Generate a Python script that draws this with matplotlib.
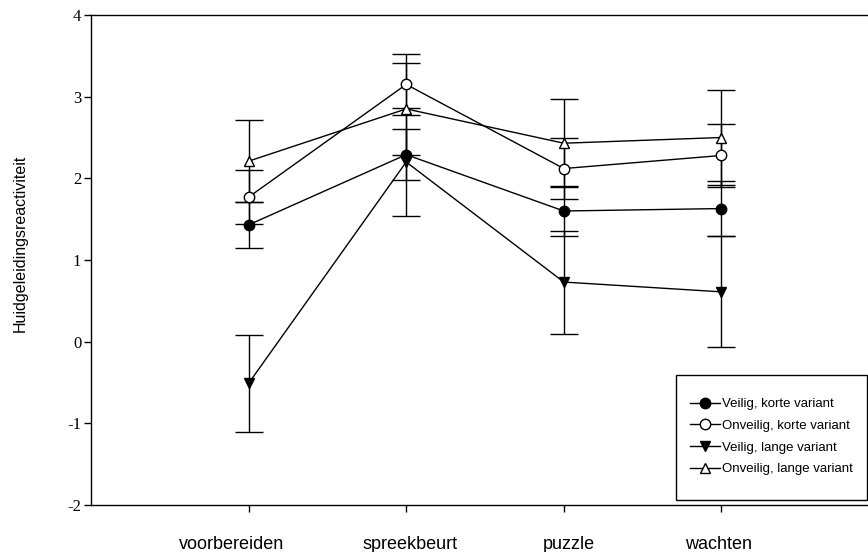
import matplotlib
matplotlib.use("Agg")
import matplotlib.pyplot as plt
from matplotlib.legend_handler import HandlerLine2D
from matplotlib.lines import Line2D
from matplotlib.patches import Rectangle
import numpy as np

# ---- data ----
categories = ["voorbereiden", "spreekbeurt", "puzzle", "wachten"]
veilig_kort = [1.43, 2.29, 1.60, 1.63]
veilig_kort_err = [0.28, 0.31, 0.31, 0.34]
onveilig_kort = [1.77, 3.15, 2.12, 2.28]
onveilig_kort_err = [0.33, 0.37, 0.37, 0.38]
veilig_lang = [-0.51, 2.20, 0.73, 0.61]
veilig_lang_err = [0.59, 0.66, 0.63, 0.68]
onveilig_lang = [2.21, 2.85, 2.43, 2.50]
onveilig_lang_err = [0.50, 0.56, 0.54, 0.58]
series_labels = ["Veilig, korte variant", "Onveilig, korte variant",
                 "Veilig, lange variant", "Onveilig, lange variant"]
y_ticks = [-2, -1, 0, 1, 2, 3, 4]
y_label = "Huidgeleidingsreactiviteit"

# ---- layout (label placement offsets relative to category ticks) ----
label_shift = [-0.11, 0.025, 0.03, -0.02]

W, H = 868, 552
fig = plt.figure(figsize=(W / 100, H / 100), dpi=100)
ax = fig.add_axes([91 / W, 47 / H, 788 / W, 490 / H])

x = np.arange(1, len(categories) + 1)
series = [
    (veilig_kort, veilig_kort_err, "o", "black"),
    (onveilig_kort, onveilig_kort_err, "o", "white"),
    (veilig_lang, veilig_lang_err, "v", "black"),
    (onveilig_lang, onveilig_lang_err, "^", "white"),
]
handles = []
for (vals, errs, mk, fc), lab in zip(series, series_labels):
    ax.errorbar(x, vals, yerr=errs, fmt="-", marker=mk, color="black",
                mfc=fc, mec="black", ms=7.5, mew=1.0, lw=1.0,
                elinewidth=1.0, capsize=10, capthick=1.0, label=lab)
    handles.append(Line2D([], [], color="black", lw=1.0, marker=mk, mfc=fc,
                          mec="black", ms=7.5, mew=1.0))

ax.set_xlim(0, 5)
ax.set_ylim(-2, 4)
ax.set_yticks(y_ticks)
ax.set_yticklabels([str(t) for t in y_ticks], family="Liberation Serif", fontsize=12)
ax.tick_params(axis="y", direction="out", length=5, width=1, pad=2)

ax.set_xticks(x)
ax.set_xticklabels([])
ax.tick_params(axis="x", which="major", direction="out", length=5, width=1)
ax.set_xticks(x + np.array(label_shift), minor=True)
ax.set_xticklabels(categories, minor=True, family="Liberation Sans", fontsize=13)
ax.tick_params(axis="x", which="minor", length=0, pad=22)

for s in ["top", "bottom", "left", "right"]:
    ax.spines[s].set_linewidth(1.0)

ax.set_ylabel(y_label, family="Liberation Sans", fontsize=11.5)
ax.yaxis.set_label_coords(-0.080, 0.535)


class EndMarkerHandler(HandlerLine2D):
    def get_xdata(self, legend, xdescent, ydescent, width, height, fontsize):
        xdata = np.array([-xdescent, -xdescent + width], float)
        xm = np.array([-xdescent + 0.62 * width], float)
        return xdata, xm


# legend box frame
fig.patches.append(Rectangle((676 / W, 1 - 500 / H), 191 / W, 125 / H,
                             transform=fig.transFigure, fill=False,
                             edgecolor="black", linewidth=1.0, zorder=5))

leg = ax.legend(handles, series_labels, loc="upper left",
                bbox_to_anchor=(690 / W, 1 - 398 / H),
                bbox_transform=fig.transFigure, borderaxespad=0, borderpad=0,
                prop={"family": "Liberation Sans", "size": 9.5},
                handler_map={Line2D: EndMarkerHandler(numpoints=1)},
                handlelength=2.3, handletextpad=0.1, labelspacing=0.72,
                frameon=False)

fig.savefig("out.png", dpi=100)
